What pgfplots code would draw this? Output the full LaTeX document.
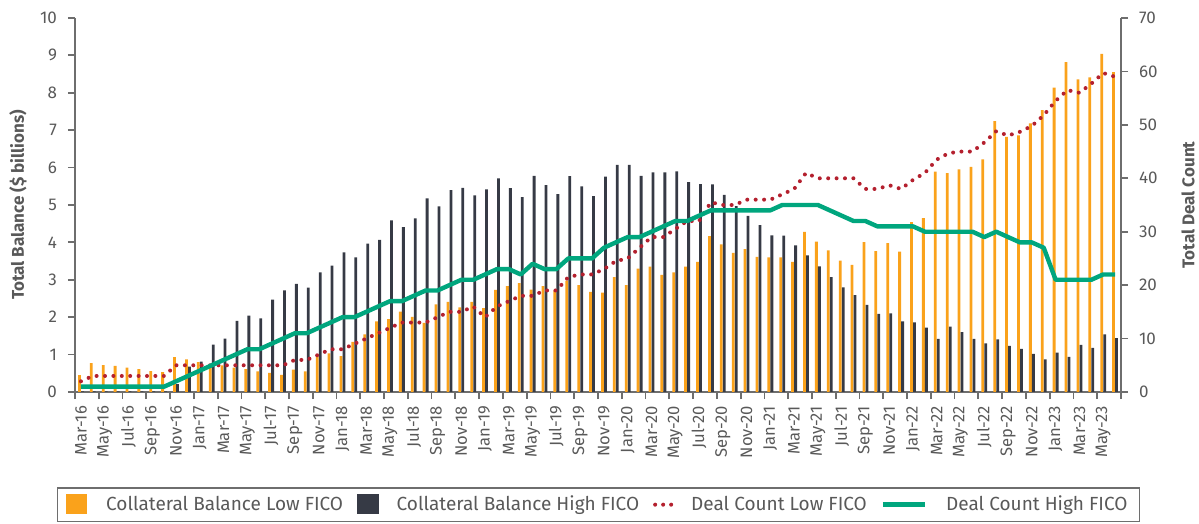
\documentclass[border=0pt]{standalone}
\usepackage{fontspec}
\setmainfont{Fira Sans}
\usepackage{pgfplots}
\pgfplotsset{compat=1.18}
\usepackage{pgfplotstable}

\definecolor{cOrange}{HTML}{FAA21B}
\definecolor{cDark}{HTML}{363A45}
\definecolor{cRed}{HTML}{B4202E}
\definecolor{cGreen}{HTML}{00A67E}
\definecolor{cAxis}{HTML}{6E6E6E}
\definecolor{cText}{HTML}{595959}

\pgfplotstableread{
i balLow balHigh cntLow cntHigh
0 0.45 0.02 2 1
1 0.77 0.02 3 1
2 0.72 0.02 3 1
3 0.70 0.02 3 1
4 0.65 0.02 3 1
5 0.61 0.02 3 1
6 0.56 0.02 3 1
7 0.53 0.02 3 1
8 0.93 0.21 5 2
9 0.87 0.68 5 3
10 0.80 0.81 5 4
11 0.74 1.27 5 5
12 0.71 1.43 5 6
13 0.65 1.90 5 7
14 0.61 2.04 5 8
15 0.55 1.97 5 8
16 0.51 2.47 5 9
17 0.46 2.72 5 10
18 0.60 2.89 6 11
19 0.55 2.79 6 11
20 0.94 3.20 7 12
21 1.03 3.38 8 13
22 0.96 3.73 8 14
23 1.34 3.60 9 14
24 1.54 3.97 10 15
25 1.89 4.07 11 16
26 1.95 4.59 12 17
27 2.15 4.41 13 17
28 2.01 4.64 13 18
29 1.85 5.18 13 19
30 2.34 4.96 14 19
31 2.41 5.40 15 20
32 2.26 5.46 15 21
33 2.41 5.26 16 21
34 2.24 5.42 14 22
35 2.73 5.71 16 23
36 2.83 5.45 17 23
37 2.91 5.21 18 22
38 2.74 5.78 18 24
39 2.83 5.53 19 23
40 2.71 5.29 19 23
41 2.98 5.77 21.5 25
42 2.86 5.50 22 25
43 2.68 5.24 22 25
44 2.66 5.76 23 27
45 3.07 6.07 24.5 28
46 2.86 6.07 25 29
47 3.30 5.78 27 29
48 3.35 5.87 29 30
49 3.13 5.87 29 31
50 3.20 5.90 30.5 32
51 3.35 5.61 32 32
52 3.48 5.56 32 33
53 4.17 5.55 35.5 34
54 3.95 5.27 35 34
55 3.72 4.97 35 34
56 3.82 4.71 36 34
57 3.61 4.46 36 34
58 3.60 4.19 36 34
59 3.60 4.18 37 35
60 3.48 3.92 38 35
61 4.28 3.65 41 35
62 4.02 3.36 40 35
63 3.79 3.07 40 34
64 3.51 2.80 40 33
65 3.40 2.59 40 32
66 4.01 2.33 38 32
67 3.77 2.09 38 31
68 3.98 2.10 38.7 31
69 3.75 1.89 38 31
70 4.54 1.86 39.7 31
71 4.65 1.72 41 30
72 5.89 1.42 43.5 30
73 5.85 1.75 44.7 30
74 5.95 1.60 45 30
75 6.02 1.42 45 30
76 6.22 1.30 46.7 29
77 7.24 1.41 48.8 30
78 6.82 1.23 48 29
79 6.86 1.15 48.7 28
80 7.18 1.02 49.8 28
81 7.54 0.87 51.8 27
82 8.14 1.05 54.5 21
83 8.82 0.94 56.5 21
84 8.36 1.26 56 21
85 8.41 1.18 57.7 21
86 9.04 1.54 59.7 22
87 8.55 1.44 59 22
}\data

\pgfplotsset{
  common/.style={
    at={(0,0)}, anchor=south west,
    scale only axis, width=523bp, height=187bp,
    xmin=-0.5, xmax=87.5,
    axis line style={draw=cAxis, line width=0.9bp, -},
    tick align=outside,
    major tick length=3.5bp,
    minor tick length=3.5bp,
    tick style={draw=cAxis, line width=0.9bp},
    minor tick style={draw=cAxis, line width=0.9bp},
    /pgf/number format/assume math mode=true,
    ticklabel style={font=\fontsize{8.5bp}{10bp}\selectfont, text=cText},
    label style={font=\bfseries\fontsize{8.5bp}{10bp}\selectfont, text=cText},
  }
}

\begin{document}
\begin{tikzpicture}
\path[use as bounding box] (-37.5bp,-66bp) rectangle (562bp,196bp);
\begin{axis}[common,
  ymin=0, ymax=10,
  axis x line*=bottom, axis y line*=left,
  ytick={0,1,...,10},
  xtick={0,2,...,86},
  xticklabels={Mar-16,May-16,Jul-16,Sep-16,Nov-16,
    Jan-17,Mar-17,May-17,Jul-17,Sep-17,Nov-17,
    Jan-18,Mar-18,May-18,Jul-18,Sep-18,Nov-18,
    Jan-19,Mar-19,May-19,Jul-19,Sep-19,Nov-19,
    Jan-20,Mar-20,May-20,Jul-20,Sep-20,Nov-20,
    Jan-21,Mar-21,May-21,Jul-21,Sep-21,Nov-21,
    Jan-22,Mar-22,May-22,Jul-22,Sep-22,Nov-22,
    Jan-23,Mar-23,May-23},
  major x tick style={draw=none},
  minor xtick={-0.5,1.5,...,87.5},
  xticklabel style={rotate=90, anchor=east, font=\fontsize{8.3bp}{9.5bp}\selectfont, text=cText},
  yticklabel style={xshift=-2bp},
  ylabel={Total Balance (\$ billions)},
  ylabel style={at={(axis description cs:-0.0545,0.5)}, anchor=center, rotate=0},
  ybar, bar width=1.4bp,
]
\addplot[ybar, bar shift=-0.75bp, fill=cOrange, draw=none] table[x=i, y=balLow] {\data};
\addplot[ybar, bar shift=0.75bp, fill=cDark, draw=none] table[x=i, y=balHigh] {\data};
\end{axis}

\begin{axis}[common,
  ymin=0, ymax=70,
  axis y line*=right, axis x line=none,
  ytick={0,10,...,70},
  yticklabel style={xshift=2bp},
  ylabel={Total Deal Count},
  ylabel style={at={(axis description cs:1.064,0.5)}, anchor=center, rotate=0},
  legend columns=4,
  legend style={at={(axis description cs:0.5005,-0.254)}, anchor=north,
    draw=cAxis, line width=0.8bp,
    font=\fontsize{9.5bp}{11bp}\selectfont, text=cText,
    inner xsep=4bp, inner ysep=2bp,
    /tikz/every even column/.append style={column sep=5bp}},
  legend cell align=left,
]
\addlegendimage{legend image code/.code={\fill[cOrange] (0bp,-4.5bp) rectangle (10bp,5bp); \path (17.5bp,0bp);}}
\addlegendentry{Collateral Balance Low FICO}
\addlegendimage{legend image code/.code={\fill[cDark] (0bp,-4.5bp) rectangle (10bp,5bp); \path (17bp,0bp);}}
\addlegendentry{Collateral Balance High FICO}
\addplot[cRed, line width=2bp, line cap=round, dash pattern=on 0pt off 4.2bp,
  legend image code/.code={\draw[cRed, line width=2bp, line cap=round, dash pattern=on 0pt off 4bp] (1bp,0bp) -- (13bp,0bp); \path (16bp,0bp);}]
  table[x=i, y=cntLow] {\data};
\addlegendentry{Deal Count Low FICO}
\addplot[cGreen, line width=2.2bp, line join=round,
  legend image code/.code={\draw[cGreen, line width=2.2bp] (0bp,0bp) -- (21bp,0bp); \path (28.5bp,0bp);}]
  table[x=i, y=cntHigh] {\data};
\addlegendentry{Deal Count High FICO}
\end{axis}
\end{tikzpicture}
\end{document}
